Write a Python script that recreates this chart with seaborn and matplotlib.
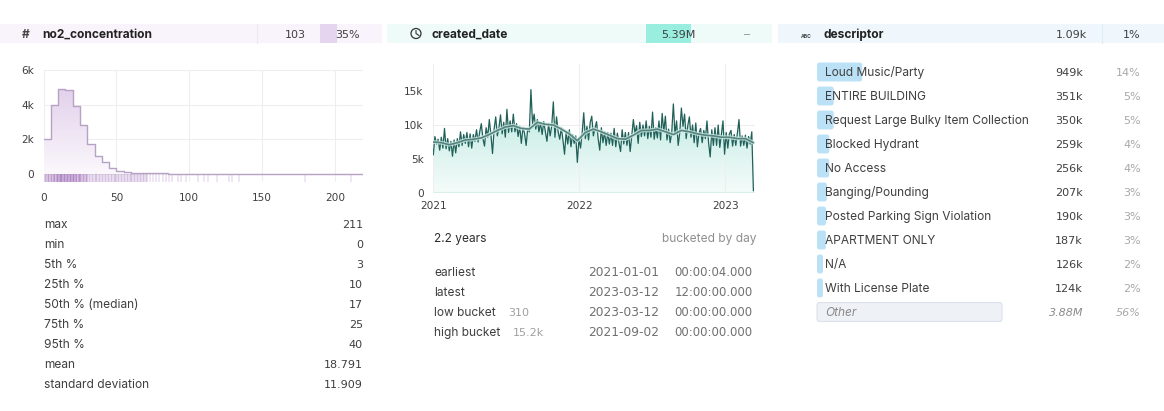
import numpy as np
import pandas as pd
import matplotlib.pyplot as plt
import matplotlib.dates as mdates
from matplotlib.patches import Rectangle, Circle, FancyBboxPatch
from matplotlib.transforms import IdentityTransform
from matplotlib.ticker import FuncFormatter
import seaborn as sns

# histogram, bins of 5 from 0 to 220
bin_counts = [2000, 4000, 4880, 4850, 3900, 2800, 1700, 1050, 650, 350, 150, 80, 50, 30, 20, 15,
              12, 10, 8, 6, 5, 5, 4, 4, 3, 3, 3, 2, 2, 2, 2, 2, 1, 1, 1, 1, 1, 1, 1, 1, 1, 1, 1, 1]
rug_dark = [7, 9, 10, 11, 12, 13, 14, 15, 16, 17, 18, 19, 20, 21, 22, 24]
rug_mid = [2, 3, 4, 5, 6, 8, 23, 25, 26, 27, 28, 29, 30]
rug_light = [1, 31, 32, 33, 34, 35, 36, 37, 38, 39, 40, 41, 42, 43, 44, 45, 46, 47, 48, 49, 50, 51, 52, 53,
             54, 55, 56, 57, 58, 59, 60, 61, 62, 63, 64, 65, 66, 67, 68, 69, 70, 71]
rug_faint = [73, 75, 77, 79, 82, 84, 86, 88, 92, 94, 98, 106, 110, 113, 119, 127, 129, 134, 179, 211]

stat_names = ["max", "min", "5th %", "25th %", "50th % (median)", "75th %", "95th %", "mean", "standard deviation"]
stat_values = ["211", "0", "3", "10", "17", "25", "40", "18.791", "11.909"]

day_values = [5.6, 8.3, 7.2, 7.9, 6.3, 8.2, 6.6, 9.5, 6.5, 8.0,
              6.2, 7.6, 5.4, 7.8, 5.9, 8.0, 6.8, 9.0, 7.0, 8.6,
              7.3, 8.9, 6.8, 8.7, 6.6, 8.6, 7.6, 9.3, 7.5, 9.0,
              10.2, 8.0, 6.9, 9.6, 8.2, 10.8, 8.6, 5.8, 9.4, 11.2,
              8.4, 9.6, 11.5, 8.7, 10.4, 8.2, 12.3, 8.9, 10.6, 9.0,
              11.6, 9.0, 10.2, 8.3, 9.8, 7.3, 9.6, 8.8, 7.0, 9.5,
              9.0, 15.2, 10.2, 11.6, 9.4, 10.8, 9.0, 10.3, 8.6, 10.5,
              9.0, 7.6, 10.2, 8.4, 9.9, 13.4, 8.2, 11.2, 9.0, 7.9,
              9.6, 7.8, 5.7, 9.0, 7.2, 9.3, 6.8, 8.6, 7.3, 8.4,
              4.5, 8.0, 6.6, 8.8, 11.8, 8.0, 9.8, 7.8, 10.3, 11.3,
              8.4, 9.5, 10.5, 8.0, 6.3, 9.6, 7.4, 9.0, 7.0, 8.9,
              7.2, 8.8, 7.0, 9.5, 6.8, 8.8, 7.4, 6.1, 9.3, 7.2,
              8.9, 7.0, 8.9, 6.1, 8.5, 10.8, 8.8, 9.9, 7.3, 10.4,
              8.3, 10.0, 8.4, 10.6, 8.0, 9.8, 8.2, 11.9, 7.9, 9.6,
              8.1, 10.6, 7.8, 11.7, 9.0, 11.3, 7.8, 9.4, 7.4, 9.0,
              13.1, 8.6, 10.6, 7.0, 8.9, 12.5, 9.8, 11.6, 8.0, 9.9,
              11.2, 8.2, 10.0, 7.4, 10.3, 6.8, 8.8, 9.5, 7.4, 9.2,
              8.0, 10.6, 7.4, 5.3, 9.3, 7.0, 9.6, 7.0, 10.0, 6.7,
              8.6, 10.6, 5.7, 8.9, 6.6, 8.7, 9.2, 6.9, 8.6, 7.0,
              8.8, 10.8, 6.9, 8.4, 7.0, 8.5, 6.6, 8.3, 7.2, 9.0, 0.31]
# smoothed line, every 20 days
smooth_values = [7.5, 7.4, 7.1, 7.4, 7.8, 7.9, 8.1, 8.6, 9.2, 9.7, 9.9, 9.5, 9.4, 10.4, 10.1, 10.0, 9.4, 8.7, 7.7, 8.9,
                 9.4, 9.0, 8.5, 8.0, 7.9, 8.5, 9.2, 9.2, 9.4, 9.0, 8.6, 9.2, 9.0, 8.7, 8.5, 8.4, 8.2, 8.2, 8.0, 8.0, 7.4]
date_rows = [("earliest", "", "2021-01-01", "00:00:04.000"),
             ("latest", "", "2023-03-12", "12:00:00.000"),
             ("low bucket", "310", "2023-03-12", "00:00:00.000"),
             ("high bucket", "15.2k", "2021-09-02", "00:00:00.000")]

desc_names = ["Loud Music/Party", "ENTIRE BUILDING", "Request Large Bulky Item Collection", "Blocked Hydrant",
              "No Access", "Banging/Pounding", "Posted Parking Sign Violation", "APARTMENT ONLY", "N/A",
              "With License Plate", "Other"]
desc_counts = [949, 351, 350, 259, 256, 207, 190, 187, 126, 124, 3880]
desc_labels = ["949k", "351k", "350k", "259k", "256k", "207k", "190k", "187k", "126k", "124k", "3.88M"]
desc_pcts = ["14%", "5%", "5%", "4%", "4%", "3%", "3%", "3%", "2%", "2%", "56%"]

sns.set_theme(style="white")
plt.rcParams["font.family"] = ["Inter", "DejaVu Sans"]
W, H = 1164, 411
TXT = "#3f3f3f"
GREY = "#a0a0a0"
GRID = "#eeeeee"
FS = 8.6
NUM = "DejaVu Sans"  # tabular digits, closest to the original number widths
NS = 8.0

fig = plt.figure(figsize=(W / 100, H / 100), dpi=100, facecolor="white")


def px_axes(l, t, r, b):
    ax = fig.add_axes([l / W, 1 - b / H, (r - l) / W, (b - t) / H])
    ax.patch.set_alpha(0)
    sns.despine(ax=ax, left=True, bottom=True)
    return ax


def gradient_under(ax, poly, x0, x1, y0, y1, top, bottom):
    # vertical gradient clipped to the area under a curve
    cmap = sns.blend_palette([bottom, top], as_cmap=True)
    xl, yl = ax.get_xlim(), ax.get_ylim()
    im = ax.imshow(np.linspace(1, 0, 128)[:, None], cmap=cmap, aspect="auto", extent=(x0, x1, y0, y1), zorder=1.5)
    im.set_clip_path(poly.get_paths()[0], transform=ax.transData)
    ax.set_xlim(xl)
    ax.set_ylim(yl)


# --- no2 histogram
ax1 = px_axes(43.5, 70, 363, 182)
edges = np.arange(0, 225, 5)
sns.histplot(x=edges[:-1], weights=bin_counts, bins=edges.tolist(), element="step", fill=False, color="#b7a2c4", linewidth=1, ax=ax1, zorder=3)
ax1.set_xlim(0, 219)
ax1.set_ylim(-480, 6000)
poly = ax1.fill_between(edges, bin_counts + [bin_counts[-1]], step="post", alpha=0)
gradient_under(ax1, poly, 0, 220, 0, 5000, "#e2d0eb", "#fbf8fc")
for vals, a in [(rug_faint, 0.22), (rug_light, 0.3), (rug_mid, 0.55), (rug_dark, 0.75)]:
    sns.rugplot(x=vals, height=0.074, color="#a678bd", alpha=a, linewidth=1.2, ax=ax1)
ax1.set_xticks([0, 50, 100, 150, 200])
ax1.set_yticks([0, 2000, 4000, 6000])
ax1.yaxis.set_major_formatter(FuncFormatter(lambda v, p: f"{v / 1000:.0f}k" if v else "0"))
ax1.grid(True, color=GRID, linewidth=0.8)
ax1.set_axisbelow(True)
ax1.tick_params(length=0, labelsize=7.6, labelcolor=TXT, labelfontfamily=NUM, pad=7)
ax1.tick_params(axis="x", pad=8)
ax1.set_xlabel("")
ax1.set_ylabel("")

# --- created_date series
ax2 = px_axes(433.3, 64, 755, 193)
dates = pd.date_range("2021-01-01", periods=len(day_values), freq="4D")
smooth_dates = pd.date_range("2021-01-01", periods=len(smooth_values), freq="20D")
day_k = np.array(day_values) * 1000
smooth_k = np.array(smooth_values) * 1000
ax2.set_xlim(pd.Timestamp("2021-01-01"), pd.Timestamp("2023-03-16"))
ax2.set_ylim(0, 18970)
poly2 = ax2.fill_between(dates, day_k, alpha=0)
x0, x1 = mdates.date2num(dates[0]), mdates.date2num(dates[-1])
gradient_under(ax2, poly2, x0, x1, 0, 10000, "#cdeee8", "#f5fcfa")
sns.lineplot(x=dates, y=day_k, color="#1f6059", linewidth=0.9, ax=ax2, zorder=3)
sns.lineplot(x=smooth_dates, y=smooth_k, color="#cfe9e5", linewidth=2.8, alpha=0.8, ax=ax2, zorder=4)
sns.lineplot(x=smooth_dates, y=smooth_k, color="#55857f", linewidth=1.2, ax=ax2, zorder=5)
ax2.set_xticks([pd.Timestamp("2021-01-01"), pd.Timestamp("2022-01-01"), pd.Timestamp("2023-01-01")])
ax2.set_xticklabels(["2021", "2022", "2023"])
ax2.set_yticks([0, 5000, 10000, 15000])
ax2.yaxis.set_major_formatter(FuncFormatter(lambda v, p: f"{v / 1000:.0f}k" if v else "0"))
ax2.grid(True, color=GRID, linewidth=0.8, zorder=2)
ax2.set_axisbelow(False)
# only the 10k gridline shows in the original
for tick, val in zip(ax2.yaxis.get_major_ticks(), [0, 5000, 10000, 15000]):
    if val != 10000:
        tick.gridline.set_visible(False)
ax2.tick_params(length=0, labelsize=7.6, labelcolor=TXT, labelfontfamily=NUM, pad=7)
ax2.tick_params(axis="x", pad=6)
ax2.set_xlabel("")
ax2.set_ylabel("")
ax2.axhline(0, color="#d8efea", linewidth=1.5, zorder=2)

# --- descriptor bars
ax3 = px_axes(817, 60, 1002, 324)
sns.barplot(x=desc_counts, y=desc_names, hue=desc_names, palette=["#bbe1f6"] * 10 + ["#eef1f6"], width=0.79,
            saturation=1, legend=False, ax=ax3)
ax3.set_xlim(0, 3880)
ax3.set_ylim(10.5, -0.5)
ax3.axis("off")
for i, p in enumerate(list(ax3.patches)):
    bb = p.get_window_extent()
    fc = p.get_facecolor()
    p.set_visible(False)
    ax3.add_artist(FancyBboxPatch((bb.x0, bb.y0), bb.width, bb.height, boxstyle="round,pad=0,rounding_size=2.5",
                                  transform=IdentityTransform(), facecolor=fc, clip_on=False,
                                  edgecolor="#dde2ea" if i == 10 else "none", linewidth=0.8))

# --- headers and text, in pixels
ov = fig.add_axes([0, 0, 1, 1], zorder=5)
ov.set_xlim(0, W)
ov.set_ylim(H, 0)
ov.axis("off")
for l, r, c in [(0, 382, "#f9f4fb"), (387, 772, "#eefbf8"), (778, 1164, "#eff7fc")]:
    ov.add_patch(Rectangle((l, 24), r - l, 19.5, facecolor=c, edgecolor="none", zorder=1))
ov.add_patch(Rectangle((320, 24), 17, 19.5, facecolor="#e6d5ef", edgecolor="none", zorder=2))
ov.add_patch(Rectangle((646, 24), 45, 19.5, facecolor="#9aeee0", edgecolor="none", zorder=2))
ov.plot([257, 257], [24, 43.5], color="#efe9f2", linewidth=1, zorder=2)
ov.plot([1101.5, 1101.5], [24, 43.5], color="#e0edf6", linewidth=1, zorder=2)


def t(x, y, s, ha="left", color=TXT, size=FS, **kw):
    # baseline placement keeps every row level whatever its letters
    ov.text(x, y + 4, s, ha=ha, va="baseline", color=color, fontsize=size, zorder=6, **kw)


def n(x, y, s, ha="right", color=TXT, size=NS, **kw):
    t(x, y, s, ha=ha, color=color, size=size, family=NUM, **kw)


t(26, 34, "#", ha="center", color="#444444", size=8.6, fontweight="bold")
t(42, 34, "no2_concentration", color="#222222", fontweight="bold")
n(306, 34, "103")
n(360, 34, "35%")
ov.add_patch(Circle((416, 33.5), 5, facecolor="none", edgecolor="#333333", linewidth=0.9, zorder=6))
ov.plot([416, 416, 419], [30.5, 33.5, 35.5], color="#333333", linewidth=0.8, zorder=6)
t(432, 34, "created_date", color="#222222", fontweight="bold")
n(696, 34, "5.39M")
t(747, 34, "–", ha="center", color=GREY)
t(806, 34, "ABC", ha="center", color="#444444", size=3.6, fontweight="bold")
t(823, 34, "descriptor", color="#222222", fontweight="bold")
n(1087, 34, "1.09k")
n(1140, 34, "1%")

for i, (name, val) in enumerate(zip(stat_names, stat_values)):
    t(44, 224 + i * 20, name)
    n(363, 224 + i * 20, val)

t(434, 238, "2.2 years", color="#2e2e2e")
t(757, 238, "bucketed by day", ha="right", color="#8f8f8f")
for i, (name, extra, day, clock) in enumerate(date_rows):
    y = 272 + i * 20
    t(434, y, name)
    if extra:
        n(508 if name == "low bucket" else 513, y, extra, ha="left", color=GREY)
    n(588, y, day, ha="left", color="#707070", size=8.8)
    n(674.5, y, clock, ha="left", color="#707070", size=8.4)

for i, (name, lab, pct) in enumerate(zip(desc_names, desc_labels, desc_pcts)):
    y = 72 + i * 24
    other = name == "Other"
    style = "italic" if other else "normal"
    t(825, y, name, color="#8a8a8a" if other else TXT, style=style)
    n(1083, y, lab, color="#8a8a8a" if other else TXT, style=style)
    n(1141, y, pct, color="#a8a8a8", style=style)

fig.savefig("out.png", dpi=100)
